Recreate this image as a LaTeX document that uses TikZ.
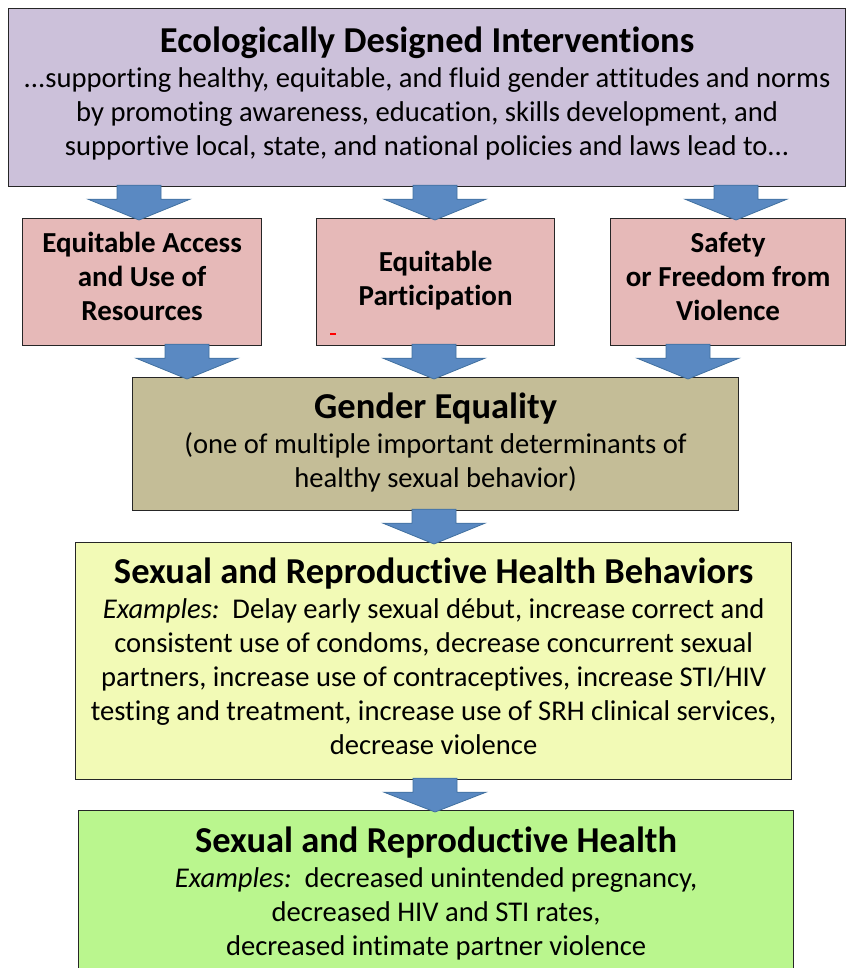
\documentclass[tikz,border=0pt]{standalone}
\usepackage{fontspec}
\setmainfont{Carlito}[Ligatures=NoCommon]
\usetikzlibrary{calc}
\definecolor{lav}{HTML}{CCC1DA}
\definecolor{pinkb}{HTML}{E6B9B8}
\definecolor{tanb}{HTML}{C4BD97}
\definecolor{yelb}{HTML}{F2FAB6}
\definecolor{greenb}{HTML}{BAF68E}
\definecolor{arrfill}{HTML}{5A89C2}
\definecolor{arredge}{HTML}{41709F}
\newcommand\bodyfont{\fontsize{28.6}{34}\selectfont}
\newcommand\titlefont{\fontsize{36.5}{36}\selectfont\bfseries}
\newcommand\pinkfont{\fontsize{29}{34}\selectfont\bfseries}
\newcommand\bluearrow[2]{%
  \filldraw[fill=arrfill, draw=arredge, line width=0.8pt, line join=miter]
    ($(#1)+(-22,-2)$) -- ($(#1)+(22,-2)$) -- ($(#1)+(22,12)$) -- ($(#1)+(51,12)$)
    -- (#2) -- ($(#1)+(-51,12)$) -- ($(#1)+(-22,12)$) -- cycle;}
\begin{document}
\begin{tikzpicture}[x=1pt, y=-1pt,
  box/.style={draw=black!85, line width=1.2pt, inner sep=0pt, anchor=north west},
  txt/.style={inner sep=0pt, align=center, font=\bodyfont},
  ptxt/.style={inner sep=0pt, align=center, font=\pinkfont},
  pinkbox/.style={box, fill=pinkb, minimum height=127pt}]
\useasboundingbox (0,0) rectangle (847,968);
\clip (0,0) rectangle (847,968);

\node[box, fill=lav, minimum width=837pt, minimum height=178pt] (top) at (8,8) {};
\node[txt] (toptxt) at ($(top.center)+(0,-4)$)
  {{\titlefont Ecologically Designed Interventions}\\[1pt]
   ...supporting healthy, equitable, and fluid gender attitudes and norms\\
   by promoting awareness, education, skills development, and\\
   supportive local, state, and national policies and laws lead to...};

\node[pinkbox, minimum width=239pt] (pl) at (22,218) {};
\node[ptxt] (pltxt) at ($(pl.center)+(0,-6)$) {Equitable Access\\ and Use of\\ Resources};
\node[pinkbox, minimum width=238pt] (pm) at (316,218) {};
\node[ptxt] (pmtxt) at ($(pm.center)+(0,-1)$) {Equitable\\ Participation};
\node[pinkbox, minimum width=235pt] (pr) at (610,218) {};
\node[ptxt] (prtxt) at ($(pr.center)+(0,-6)$) {Safety\\ or Freedom from\\ Violence};
\draw[red, line width=1.4pt] (330,334) -- (336,334);

\node[box, fill=tanb, minimum width=606pt, minimum height=133pt] (ge) at (132,377) {};
\node[txt] (getxt) at ($(ge.center)+(0,-2)$)
  {{\titlefont Gender Equality}\\[1pt]
   (one of multiple important determinants of\\
   healthy sexual behavior)};

\node[box, fill=yelb, minimum width=716pt, minimum height=237pt] (beh) at (75,542) {};
\node[txt] (behtxt) at ($(beh.center)+(0,-4.5)$)
  {{\titlefont Sexual and Reproductive Health Behaviors}\\[1pt]
   \textit{Examples:}\ \ Delay early sexual début, increase correct and\\
   consistent use of condoms, decrease concurrent sexual\\
   partners, increase use of contraceptives, increase STI/HIV\\
   testing and treatment, increase use of SRH clinical services,\\
   decrease violence};

\node[box, fill=greenb, minimum width=715pt, minimum height=166pt] (srh) at (78,810) {};
\node[txt] (srhtxt) at ($(srh.center)+(0,-0.5)$)
  {{\titlefont Sexual and Reproductive Health}\\[1pt]
   \textit{Examples:}\ \ decreased unintended pregnancy,\\
   decreased HIV and STI rates,\\
   decreased intimate partner violence};

% x positions of arrows
\coordinate (x1) at (139,0);
\coordinate (x2) at (435,0);
\coordinate (x3) at (736,0);
\coordinate (x4) at (187,0);
\coordinate (x5) at (434,0);
\coordinate (x6) at (688,0);

\coordinate (a1s) at (top.south -| x1); \coordinate (a1e) at ($(pl.north -| x1)+(0,2)$);
\coordinate (a2s) at (top.south -| x2); \coordinate (a2e) at ($(pm.north -| x2)+(0,2)$);
\coordinate (a3s) at (top.south -| x3); \coordinate (a3e) at ($(pr.north -| x3)+(0,2)$);
\coordinate (b1s) at (pl.south -| x4); \coordinate (b1e) at ($(ge.north -| x4)+(0,2)$);
\coordinate (b2s) at (pm.south -| x5); \coordinate (b2e) at ($(ge.north -| x5)+(0,2)$);
\coordinate (b3s) at (pr.south -| x6); \coordinate (b3e) at ($(ge.north -| x6)+(0,2)$);
\coordinate (c1s) at (ge.south -| x5); \coordinate (c1e) at ($(beh.north -| x5)+(0,2)$);
\coordinate (d1s) at (beh.south -| x2); \coordinate (d1e) at ($(srh.north -| x2)+(0,2)$);

\bluearrow{a1s}{a1e}
\bluearrow{a2s}{a2e}
\bluearrow{a3s}{a3e}
\bluearrow{b1s}{b1e}
\bluearrow{b2s}{b2e}
\bluearrow{b3s}{b3e}
\bluearrow{c1s}{c1e}
\bluearrow{d1s}{d1e}
\end{tikzpicture}
\end{document}
